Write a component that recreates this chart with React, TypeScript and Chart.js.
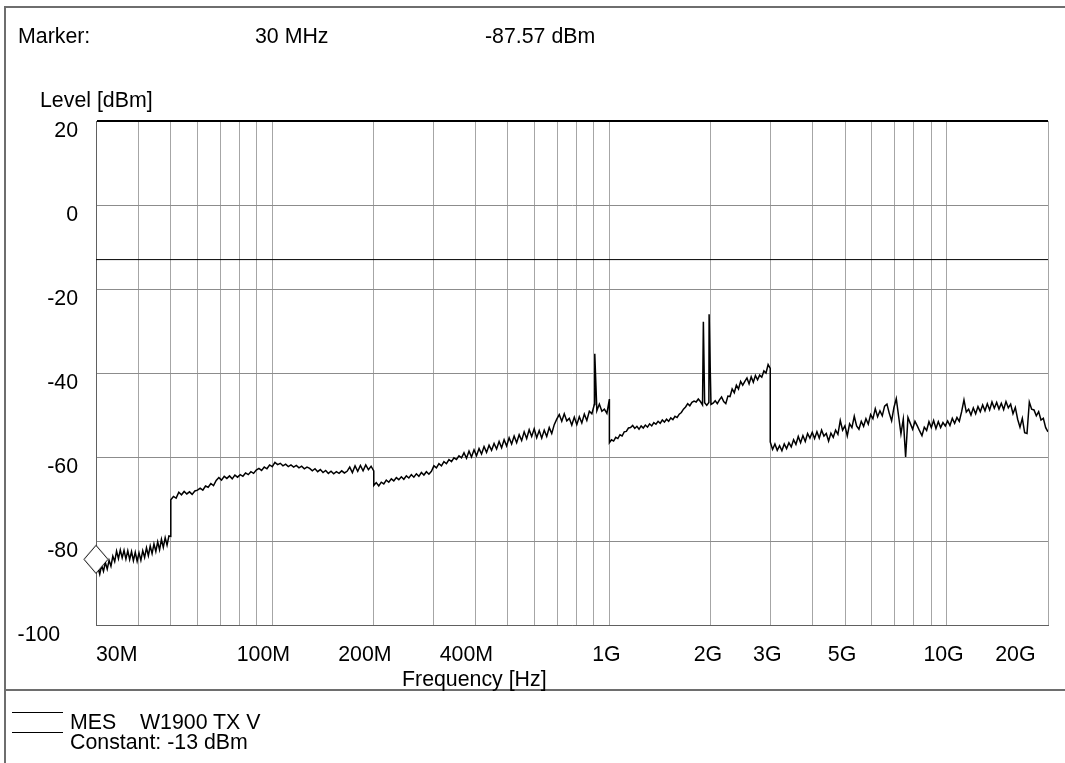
import React, { useEffect, useRef } from 'react';
import { Chart, registerables } from 'chart.js';

Chart.register(...registerables);

const FONT = '"Liberation Sans", Arial, Helvetica, sans-serif';
const FONT_PX = 21.33;

// ---------------- Data ----------------
// Sweep 1: 30 MHz – 50 MHz
const sweep1StartMHz = 30;
const sweep1StopMHz = 50;
const sweep1Levels = [
  -87.6, -86.2, -87.9, -85.8, -87.2, -85.1, -86.7, -84.6, -86.0, -83.6,
  -84.9, -82.4, -84.2, -82.1, -84.0, -82.2, -84.3, -82.3, -84.4, -82.5,
  -84.7, -82.7, -84.8, -82.8, -84.6, -82.3, -83.9, -81.6, -83.5, -81.2,
  -83.0, -80.7, -82.5, -80.2, -82.1, -79.6, -81.5, -79.2, -81.0, -78.8,
  -78.9,
];

// Sweep 2: 50 MHz – 200 MHz
const sweep2StartMHz = 50;
const sweep2StopMHz = 200;
const sweep2Levels = [
  -70.2, -69.4, -69.8, -68.4, -69.0, -68.2, -68.8, -68.3, -68.9, -68.1,
  -67.9, -67.4, -67.9, -66.9, -67.2, -66.3, -66.8, -65.6, -64.9, -65.5,
  -64.6, -65.1, -64.5, -65.2, -64.3, -64.8, -64.2, -64.6, -63.8, -64.2,
  -63.5, -63.9, -63.1, -62.7, -63.2, -62.4, -62.8, -61.9, -62.3, -61.3,
  -61.8, -61.5, -62.1, -61.7, -62.3, -61.9, -62.4, -62.0, -62.6, -62.2,
  -62.8, -62.4, -62.7, -63.3, -62.8, -63.5, -63.0, -63.7, -63.2, -63.9,
  -63.4, -64.0, -63.5, -63.9, -63.3, -63.8, -63.4, -62.4, -63.7, -62.1,
  -63.4, -62.0, -63.3, -61.9, -63.0, -62.2, -63.3,
];

// Sweep 3: 200 MHz – 1 GHz
const sweep3StartMHz = 200;
const sweep3StopMHz = 1000;
const sweep3Levels = [
  -66.8, -66.1, -66.9, -66.0, -66.4, -65.5, -66.0, -65.2, -65.7, -64.9,
  -65.4, -64.7, -65.3, -64.5, -65.0, -64.2, -64.8, -64.0, -64.6, -63.7,
  -64.3, -63.5, -64.1, -63.4, -62.1, -62.6, -61.6, -62.1, -61.1, -61.6,
  -60.6, -61.1, -60.2, -60.6, -59.7, -60.2, -59.0, -60.3, -58.6, -60.0,
  -58.3, -59.7, -58.0, -59.3, -57.5, -58.9, -57.2, -58.4, -56.8, -58.1,
  -56.3, -57.8, -55.9, -57.4, -55.4, -56.9, -55.0, -56.6, -54.7, -56.1,
  -54.0, -55.6, -53.5, -55.1, -53.3, -55.4, -53.7, -55.5, -53.6, -55.1,
  -53.0, -54.4, -52.3, -51.0, -49.9, -51.5, -49.7, -51.4, -50.8, -52.4,
  -50.5, -52.3, -50.4, -51.9, -49.8, -51.3, -49.1, -49.7, -47.5, -49.0,
  -47.4, -49.1, -48.6, -49.6, -46.2,
];

// Sweep 4: 1 GHz – 3 GHz
const sweep4StartMHz = 1000;
const sweep4StopMHz = 3000;
const sweep4Levels = [
  -56.6, -55.9, -56.2, -55.3, -55.6, -54.7, -55.0, -54.0, -53.9, -53.1,
  -53.0, -52.5, -53.2, -52.7, -53.4, -52.6, -53.1, -52.4, -52.9, -52.1,
  -52.6, -51.8, -52.2, -51.5, -52.0, -51.2, -51.7, -51.0, -51.5, -50.7,
  -51.1, -50.3, -50.6, -49.8, -49.4, -48.6, -48.1, -47.3, -47.8, -47.0,
  -46.7, -46.9, -46.2, -46.8, -47.6, -47.1, -47.7, -47.0, -47.5, -47.2,
  -46.6, -47.3, -46.4, -45.7, -46.8, -47.3, -45.5, -45.6, -43.8, -44.7,
  -42.9, -43.8, -42.0, -42.9, -42.0, -41.2, -42.6, -40.9, -42.2, -40.6,
  -41.6, -40.5, -41.0, -39.5, -40.0, -38.0, -38.9,
];

// Sweep 5: 3 GHz – 20 GHz
const sweep5StartMHz = 3000;
const sweep5StopMHz = 20000;
const sweep5Levels = [
  -56.4, -58.2, -56.9, -58.4, -57.3, -58.5, -56.9, -58.0, -56.6, -57.6,
  -55.9, -57.0, -55.1, -56.6, -54.9, -56.3, -54.4, -55.5, -54.1, -55.6,
  -54.0, -55.5, -53.6, -55.0, -54.4, -56.2, -54.3, -55.3, -53.6, -54.6,
  -51.3, -53.6, -52.6, -55.0, -52.1, -53.0, -50.3, -52.6, -53.4, -51.5,
  -52.7, -50.9, -52.2, -49.9, -50.9, -48.5, -50.4, -49.0, -50.2, -47.9,
  -47.4, -49.6, -51.4, -48.2, -46.1, -50.3, -54.5, -51.0, -60.0, -50.6,
  -52.0, -53.4, -51.5, -52.6, -53.8, -54.9, -52.9, -53.7, -51.6, -53.0,
  -51.3, -53.2, -51.6, -53.0, -51.8, -52.6, -51.4, -52.5, -50.8, -52.0,
  -50.6, -51.5, -49.2, -46.4, -49.3, -48.6, -50.0, -48.3, -49.7, -48.0,
  -49.2, -47.6, -49.0, -47.3, -48.8, -46.9, -48.4, -47.0, -48.6, -47.2,
  -48.7, -46.8, -48.3, -47.4, -49.7, -48.2, -51.0, -52.9, -50.8, -54.2,
  -54.4, -46.9, -48.6, -48.8, -50.2, -49.2, -51.2, -50.8, -53.0, -54.0,
];

// Narrow spurious peaks
const spikeFreqsMHz = [905, 1900, 1976];
const spikeLevels = [-35.4, -27.8, -26.0];

// Limit line and marker
const limitLevel = -13;
const markerFreqMHz = 30;
const markerLevel = -87.57;

// Axes
const xMinMHz = 30;
const xMaxMHz = 20000;
const yMin = -100;
const yMax = 20;
const yTickValues = [20, 0, -20, -40, -60, -80, -100];
const xGridMHz = [
  30, 40, 50, 60, 70, 80, 90, 100, 200, 300, 400, 500, 600, 700, 800, 900,
  1000, 2000, 3000, 4000, 5000, 6000, 7000, 8000, 9000, 10000, 20000,
];
const xLabelMHz = [30, 100, 200, 400, 1000, 2000, 3000, 5000, 10000, 20000];
const xLabelTexts = ['30M', '100M', '200M', '400M', '1G', '2G', '3G', '5G', '10G', '20G'];

// ---------------- helpers ----------------
function sweep(startMHz: number, stopMHz: number, levels: number[]) {
  const n = levels.length;
  return levels.map((y, i) => ({
    x: startMHz * Math.pow(stopMHz / startMHz, i / (n - 1)),
    y,
  }));
}

function buildTrace() {
  const pts = [
    ...sweep(sweep1StartMHz, sweep1StopMHz, sweep1Levels),
    ...sweep(sweep2StartMHz, sweep2StopMHz, sweep2Levels),
    ...sweep(sweep3StartMHz, sweep3StopMHz, sweep3Levels),
    ...sweep(sweep4StartMHz, sweep4StopMHz, sweep4Levels),
    ...sweep(sweep5StartMHz, sweep5StopMHz, sweep5Levels),
    ...spikeFreqsMHz.map((x, i) => ({ x, y: spikeLevels[i] })),
  ];
  return pts.sort((a, b) => a.x - b.x);
}

function formatXLabel(value: number) {
  const i = xLabelMHz.indexOf(value);
  if (i < 0) return '';
  const t = xLabelTexts[i];
  if (i === 0) return '       ' + t;
  if (i === xLabelTexts.length - 1) return t + '           ';
  return t + (t.endsWith('M') ? '   ' : ' ');
}

function makeMarkerImage() {
  const c = document.createElement('canvas');
  c.width = 26;
  c.height = 58;
  const g = c.getContext('2d')!;
  g.fillStyle = '#fff';
  g.strokeStyle = '#000';
  g.lineWidth = 1;
  g.beginPath();
  g.moveTo(13, 1.5);
  g.lineTo(25, 15.5);
  g.lineTo(13, 29.5);
  g.lineTo(1, 15.5);
  g.closePath();
  g.fill();
  g.stroke();
  return c;
}

const textStyle = (left: number, top: number): React.CSSProperties => ({
  position: 'absolute',
  left,
  top,
  fontFamily: FONT,
  fontSize: FONT_PX + 'px',
  lineHeight: 1,
  whiteSpace: 'pre',
  color: '#000',
});

export default function App() {
  const canvasRef = useRef<HTMLCanvasElement | null>(null);

  useEffect(() => {
    if (!canvasRef.current) return;
    Chart.defaults.font.family = FONT;
    const tickFont = { family: FONT, size: FONT_PX };
    const chart = new Chart(canvasRef.current, {
      type: 'line',
      data: {
        datasets: [
          {
            label: 'Marker',
            data: [{ x: markerFreqMHz, y: markerLevel }],
            showLine: false,
            pointStyle: makeMarkerImage() as any,
            pointRadius: 14,
            clip: false as any,
            order: 0,
          },
          {
            label: 'MES W1900 TX V',
            data: buildTrace(),
            borderColor: '#000',
            borderWidth: 1.5,
            pointRadius: 0,
            tension: 0,
            order: 1,
          },
          {
            label: 'Constant: -13 dBm',
            data: [
              { x: xMinMHz, y: limitLevel },
              { x: xMaxMHz, y: limitLevel },
            ],
            borderColor: '#000',
            borderWidth: 1,
            pointRadius: 0,
            order: 2,
          },
        ],
      },
      options: {
        responsive: false,
        animation: false,
        events: [],
        layout: { padding: { top: 121, right: 17, bottom: 0, left: 0 } },
        plugins: {
          legend: { display: false },
          tooltip: { enabled: false },
          title: { display: false },
        },
        scales: {
          x: {
            type: 'logarithmic',
            min: xMinMHz,
            max: xMaxMHz,
            afterBuildTicks: (scale: any) => {
              scale.ticks = xGridMHz.map((v) => ({ value: v }));
            },
            afterFit: (scale: any) => {
              scale.height = 138;
              scale.paddingLeft = 0;
              scale.paddingRight = 0;
            },
            ticks: {
              autoSkip: false,
              maxRotation: 0,
              minRotation: 0,
              padding: 17,
              color: '#000',
              font: tickFont,
              callback: (value: any) => formatXLabel(Number(value)),
            },
            grid: {
              drawTicks: false,
              color: '#a6a6a6',
              lineWidth: 1,
            },
            border: { color: '#606060', width: 1 },
          },
          y: {
            type: 'linear',
            min: yMin,
            max: yMax,
            afterBuildTicks: (scale: any) => {
              scale.ticks = yTickValues.map((v) => ({ value: v }));
            },
            afterFit: (scale: any) => {
              scale.width = 96;
              scale.paddingTop = 0;
              scale.paddingBottom = 0;
            },
            ticks: {
              padding: 18,
              labelOffset: 10,
              color: '#000',
              font: tickFont,
              callback: (value: any) => (Number(value) === -100 ? '-100   ' : String(value)),
            },
            grid: {
              drawTicks: false,
              color: (ctx: any) => (ctx.tick && ctx.tick.value === yMax ? '#000' : '#8c8c8c'),
              lineWidth: (ctx: any) => (ctx.tick && ctx.tick.value === yMax ? 2 : 1),
            },
            border: { color: '#606060', width: 1 },
          },
        },
      } as any,
    });
    return () => chart.destroy();
  }, []);

  return (
    <div style={{ position: 'absolute', left: 0, top: 0, width: 1065, height: 763, background: '#fff', overflow: 'hidden' }}>
      {/* outer frame */}
      <div style={{ position: 'absolute', left: 4, top: 6, width: 1061, height: 2, background: '#6e6e6e' }} />
      <div style={{ position: 'absolute', left: 4, top: 6, width: 2, height: 757, background: '#6e6e6e' }} />
      <div style={{ position: 'absolute', left: 4, top: 689, width: 1061, height: 2, background: '#6e6e6e' }} />

      <canvas ref={canvasRef} width={1065} height={763} style={{ position: 'absolute', left: 0, top: 0 }} />

      {/* header */}
      <div style={textStyle(18, 26)}>Marker:</div>
      <div style={textStyle(255, 26)}>30 MHz</div>
      <div style={textStyle(485, 26)}>-87.57 dBm</div>
      <div style={textStyle(40, 90)}>Level [dBm]</div>
      <div style={textStyle(402, 669)}>Frequency [Hz]</div>

      {/* legend */}
      <div style={{ position: 'absolute', left: 12, top: 712, width: 51, height: 1, background: '#000' }} />
      <div style={{ position: 'absolute', left: 12, top: 732, width: 51, height: 1, background: '#000' }} />
      <div style={textStyle(70, 712)}>{'MES    W1900 TX V'}</div>
      <div style={textStyle(70, 732)}>Constant: -13 dBm</div>
    </div>
  );
}
